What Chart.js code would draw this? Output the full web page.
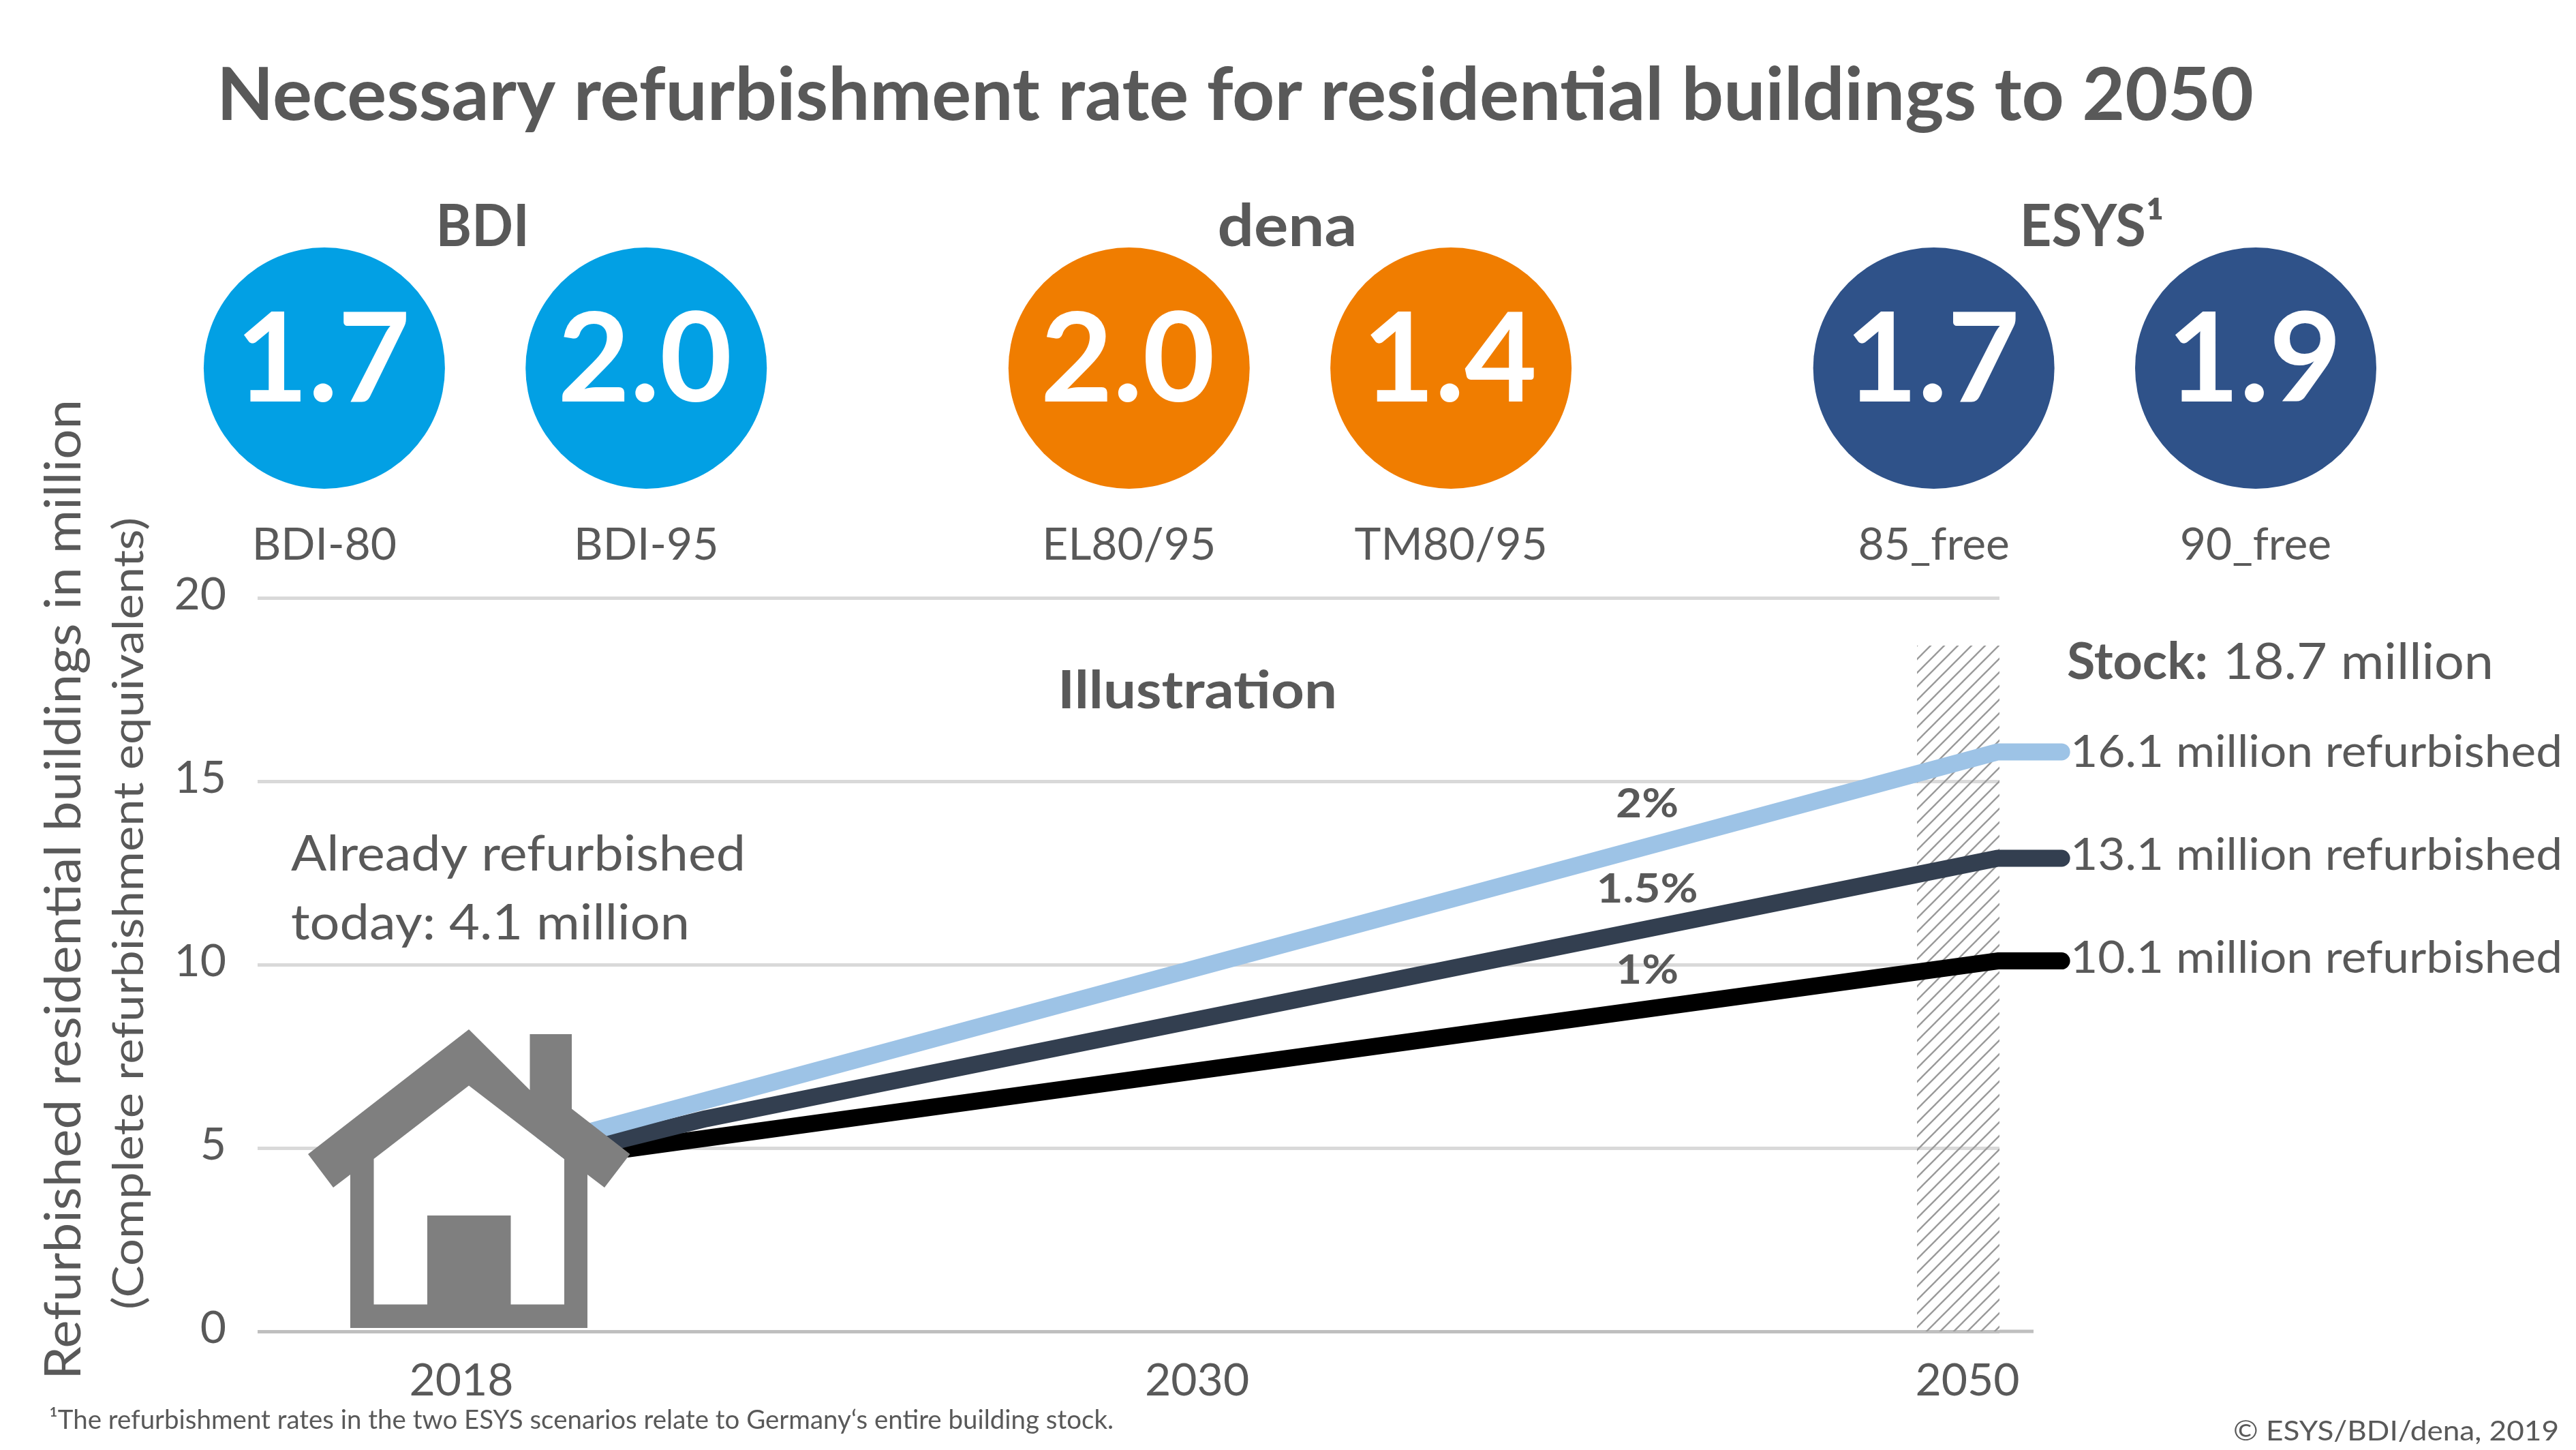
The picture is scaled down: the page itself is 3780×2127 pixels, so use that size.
<!DOCTYPE html>
<html>
<head>
<meta charset="utf-8">
<style>
html,body{margin:0;padding:0;background:#fff;width:3780px;height:2127px;overflow:hidden}
canvas{position:absolute;left:0;top:0}
</style>
<script src="https://cdn.jsdelivr.net/npm/chart.js@4/dist/chart.umd.min.js"></script>
</head>
<body>
<canvas id="main" width="3780" height="2127"></canvas>
<canvas id="head" width="3780" height="860"></canvas>
<script>
// ---- data ----
const scenarioNames = ['BDI-80','BDI-95','EL80/95','TM80/95','85_free','90_free'];
const scenarioRates = [1.7,2.0,2.0,1.4,1.7,1.9];
const scenarioSlots = [0,2,5,7,10,12];
const groupNames = ['BDI','dena','ESYS¹'];
const groupSlots = [1,6,11];
const yearLabels = ['2018','2030','2050'];
const yearSlots = [0,0.977,2];
const lineSlots = [0,2.04,2.125];
const rate2 = [4.5,15.8,15.8];
const rate15Slots = [0,0.325,2.04,2.125];
const rate15 = [4.15,5.8,12.9,12.9];
const rate1 = [4.35,10.1,10.1];
const stockSlots = [1.933,2.0425];
const stockLevel = [18.7,18.7];
const yTicks = [0,5,10,15,20];

const FONT = 'Lato';
const GREY = '#595959';
const zip = (xs,ys)=>xs.map((x,i)=>({x,y:ys[i]}));

// cap-centred text, optionally stretched to an exact pixel width
function put(ctx,str,x,yc,size,opt={}){
  const {weight='400',color=GREY,align='left',w=null,rot=0}=opt;
  ctx.save();
  ctx.font=`${weight} ${size}px ${FONT}`;
  ctx.fillStyle=color;
  ctx.textBaseline='alphabetic';
  ctx.textAlign='left';
  const m=ctx.measureText(str).width;
  const tw=w||m;
  ctx.translate(x,yc);
  if(rot)ctx.rotate(rot);
  const ox=align==='center'?-tw/2:align==='right'?-tw:0;
  ctx.translate(ox,size*0.358);
  ctx.scale(tw/m,1);
  ctx.fillText(str,0,0);
  ctx.restore();
}

function hatchPattern(){
  const c=document.createElement('canvas');c.width=c.height=20;
  const g=c.getContext('2d');
  g.strokeStyle='#9A9A9A';g.lineWidth=2.4;
  [[-20,20,20,-20],[0,20,20,0],[0,40,40,0]].forEach(([a,b,d,e])=>{g.beginPath();g.moveTo(a,b);g.lineTo(d,e);g.stroke();});
  return g.createPattern(c,'repeat');
}

// the zero line runs a little past the plot area, below the series stubs
const axisStub={id:'axisStub',beforeDatasetsDraw(chart){
  const {ctx,chartArea:a,scales:{y}}=chart;
  ctx.save();ctx.fillStyle='#BFBFBF';
  ctx.fillRect(a.right,y.getPixelForValue(0)-2.5,50,5);
  ctx.restore();
}};

const housePlugin={id:'house',afterDatasetsDraw(chart){
  const ctx=chart.ctx;
  const outer=[[688,1510],[777.5,1599],[777.5,1517],[839,1517],[839,1626.6],[924.5,1693],[887,1742],[862,1723],[862,1948],[514,1948],[514,1723],[489,1742],[452,1693]];
  const inner=[[688,1592.5],[828,1700],[828,1913.6],[749.5,1913.6],[749.5,1783],[627,1783],[627,1913.6],[548.5,1913.6],[548.5,1700]];
  const path=(pts)=>{ctx.beginPath();pts.forEach((p,i)=>i?ctx.lineTo(p[0],p[1]):ctx.moveTo(p[0],p[1]));ctx.closePath();};
  ctx.save();
  path(inner);ctx.fillStyle='#fff';ctx.fill();
  ctx.fillStyle='#7F7F7F';
  path(outer);
  inner.slice().reverse().forEach((p,i)=>i?ctx.lineTo(p[0],p[1]):ctx.moveTo(p[0],p[1]));
  ctx.closePath();
  ctx.fill('evenodd');
  ctx.restore();
}};

const textPlugin={id:'texts',afterDraw(chart){
  const c=chart.ctx;
  put(c,'Illustration',1757,1012,76,{weight:'700',align:'center',w:410});
  put(c,'Already refurbished',427,1251,72,{w:667});
  put(c,'today: 4.1 million',427,1352,72,{w:585});
  put(c,'Stock:',3033,970,74,{weight:'700',w:207});
  put(c,'18.7 million',3262,970,74,{w:397});
  put(c,'16.1 million refurbished',3038,1101,66,{w:722});
  put(c,'13.1 million refurbished',3038,1252,66,{w:722});
  put(c,'10.1 million refurbished',3038,1403,66,{w:722});
  put(c,'2%',2417,1178,60,{weight:'700',align:'center',w:92});
  put(c,'1.5%',2417,1303,60,{weight:'700',align:'center',w:149});
  put(c,'1%',2417,1422,60,{weight:'700',align:'center',w:92});
  put(c,'Refurbished residential buildings in million',92,1305,74,{rot:-Math.PI/2,align:'center',w:1438});
  put(c,'(Complete refurbishment equivalents)',188,1340,62,{rot:-Math.PI/2,align:'center',w:1162});
  put(c,'¹The refurbishment rates in the two ESYS scenarios relate to Germany‘s entire building stock.',72,2082,38,{w:1562});
  put(c,'© ESYS/BDI/dena, 2019',3755,2099,40,{align:'right',w:478});
}};

new Chart(document.getElementById('main'),{
  type:'line',
  plugins:[axisStub,housePlugin,textPlugin],
  data:{datasets:[
    {label:'2%',data:zip(lineSlots,rate2),borderColor:'#9DC3E6',order:1},
    {label:'1.5%',data:zip(rate15Slots,rate15),borderColor:'#333F50',order:2},
    {label:'1%',data:zip(lineSlots,rate1),borderColor:'#000000',order:3},
    {label:'Stock',data:zip(stockSlots,stockLevel),borderWidth:0,borderColor:'transparent',fill:'origin',backgroundColor:hatchPattern(),order:4}
  ]},
  options:{
    responsive:false,animation:false,devicePixelRatio:1,
    layout:{autoPadding:false,padding:{left:0,right:846,top:877,bottom:0}},
    elements:{point:{radius:0,hoverRadius:0},line:{borderWidth:25,tension:0,borderCapStyle:'round',borderJoinStyle:'round'}},
    datasets:{line:{clip:false}},
    plugins:{legend:{display:false},tooltip:{enabled:false}},
    scales:{
      x:{type:'linear',min:-0.2706,max:2.0425,
        grid:{display:false},border:{display:false},
        afterBuildTicks:s=>{s.ticks=yearSlots.map(v=>({value:v}));},
        afterFit:s=>{s.height=174;},
        ticks:{autoSkip:false,maxRotation:0,padding:25,color:GREY,font:{family:FONT,size:66},
          callback:(v,i)=>yearLabels[i]}},
      y:{type:'linear',min:0,max:20,
        grid:{drawTicks:false,lineWidth:5,color:c=>c.tick&&c.tick.value===0?'#BFBFBF':'#D9D9D9'},
        border:{display:false},
        afterBuildTicks:s=>{s.ticks=yTicks.map(v=>({value:v}));},
        afterFit:s=>{s.width=378;},
        ticks:{padding:46,labelOffset:-4,color:GREY,font:{family:FONT,size:66}}}
    }
  }
});

const groupWidths = [137,205,212];
const headPlugin={id:'headTexts',afterDraw(chart){
  const c=chart.ctx,x=chart.scales.x;
  put(c,'Necessary refurbishment rate for residential buildings to 2050',318,137,108,{weight:'700',w:2989});
  groupNames.forEach((g,i)=>put(c,g,x.getPixelForValue(groupSlots[i])-4,330,86,{weight:'700',align:'center',w:groupWidths[i]}));
  chart.getDatasetMeta(0).data.forEach((p,i)=>{
    put(c,scenarioRates[i].toFixed(1),p.x-2,524,182,{weight:'700',color:'#fff',align:'center',w:256});
  });
}};

new Chart(document.getElementById('head'),{
  type:'scatter',
  plugins:[headPlugin],
  data:{datasets:[{label:'Refurbishment rate',
    data:scenarioSlots.map(s=>({x:s,y:0.5})),
    pointRadius:177,pointHoverRadius:177,pointBorderWidth:0,clip:false,
    pointBackgroundColor:['#02A0E4','#02A0E4','#F07D00','#F07D00','#2F5289','#2F5289']}]},
  options:{
    responsive:false,animation:false,devicePixelRatio:1,events:[],
    layout:{autoPadding:false,padding:{left:0,right:0,top:362,bottom:0}},
    plugins:{legend:{display:false},tooltip:{enabled:false}},
    scales:{
      x:{type:'linear',min:-2.015,max:13.99,
        grid:{display:false},border:{display:false},
        afterBuildTicks:s=>{s.ticks=scenarioSlots.map(v=>({value:v}));},
        afterFit:s=>{s.height=142;},
        ticks:{autoSkip:false,maxRotation:0,padding:34,color:GREY,font:{family:FONT,size:66},
          callback:(v,i)=>scenarioNames[i]}},
      y:{type:'linear',min:0,max:1,display:false}
    }
  }
});
</script>
</body>
</html>
